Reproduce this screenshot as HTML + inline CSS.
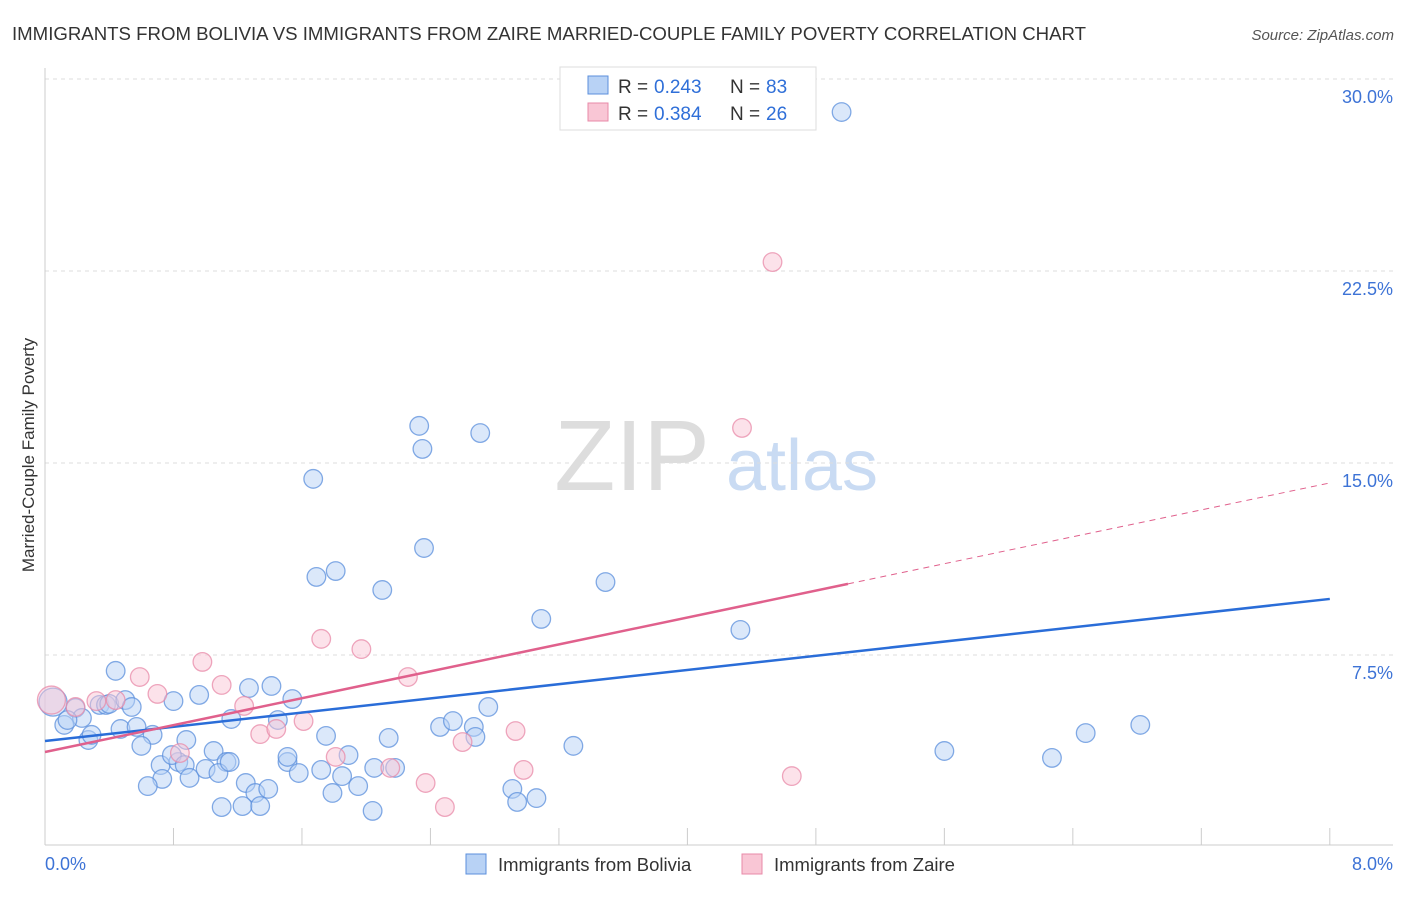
<!DOCTYPE html>
<html><head><meta charset="utf-8"><style>
body{margin:0;background:#fff;font-family:"Liberation Sans",sans-serif}
svg text{font-family:"Liberation Sans",sans-serif}
</style></head><body>
<svg id="chart" width="1406" height="892" xmlns="http://www.w3.org/2000/svg">
<text x="12" y="40" font-size="18" fill="#333" textLength="1074" lengthAdjust="spacingAndGlyphs">IMMIGRANTS FROM BOLIVIA VS IMMIGRANTS FROM ZAIRE MARRIED-COUPLE FAMILY POVERTY CORRELATION CHART</text>
<text x="1394" y="40" font-size="15" fill="#555" font-style="italic" text-anchor="end">Source: ZipAtlas.com</text>
<g>
<text x="632" y="490" font-size="100" fill="#ddd" font-family="Liberation Serif,serif" text-anchor="middle">ZIP</text>
<text x="802" y="490" font-size="72" fill="#c9dbf3" text-anchor="middle">atlas</text>
</g>
<g id="grid"></g>
<g id="axes"></g>
<g id="marks"></g>
<text transform="translate(34,455) rotate(-90)" font-size="17" fill="#333" text-anchor="middle">Married-Couple Family Poverty</text>
<g>
<rect x="560" y="67" width="256" height="63" fill="#fff" stroke="#ddd"/>
<rect x="588" y="76" width="20" height="18" fill="#b8d2f5" stroke="#5b8fdc"/>
<rect x="588" y="103" width="20" height="18" fill="#f9c6d5" stroke="#e88aa8"/>
<text x="618" y="93" font-size="19" fill="#333">R = </text><text x="654" y="93" font-size="19" fill="#2f6fd8">0.243</text>
<text x="730" y="93" font-size="19" fill="#333">N = </text><text x="766" y="93" font-size="19" fill="#2f6fd8">83</text>
<text x="618" y="120" font-size="19" fill="#333">R = </text><text x="654" y="120" font-size="19" fill="#2f6fd8">0.384</text>
<text x="730" y="120" font-size="19" fill="#333">N = </text><text x="766" y="120" font-size="19" fill="#2f6fd8">26</text>
</g>
<g>
<rect x="466" y="854" width="20" height="20" fill="#b8d2f5" stroke="#5b8fdc"/>
<text x="498" y="871" font-size="18.5" fill="#333">Immigrants from Bolivia</text>
<rect x="742" y="854" width="20" height="20" fill="#f9c6d5" stroke="#e88aa8"/>
<text x="774" y="871" font-size="18.5" fill="#333">Immigrants from Zaire</text>
</g>
</svg>
<script>
const yTicks=[7.5,15,22.5,30];
const yTickLabels=["7.5%","15.0%","22.5%","30.0%"];
const xTickLabels=["0.0%","8.0%"];
const boliviaX=[0.44,0.05,0.19,0.34,0.38,0.40,0.50,0.54,0.23,0.12,0.14,0.27,0.29,0.80,0.96,0.47,0.57,0.67,0.60,0.88,1.16,1.27,1.41,1.54,1.45,0.72,0.83,0.79,0.87,1.05,1.13,0.90,0.73,0.64,1.00,1.08,1.25,1.15,1.31,1.39,1.23,1.34,1.10,1.51,1.51,1.58,1.75,1.72,1.89,1.85,1.79,1.95,2.04,2.05,2.14,2.18,2.46,2.54,2.67,2.68,2.76,3.29,2.91,2.94,3.06,1.69,1.81,2.10,2.36,2.33,2.35,2.71,1.67,3.09,3.49,4.33,4.96,5.60,6.27,6.48,6.82];
const boliviaY=[6.88,5.66,5.43,5.55,5.55,5.59,5.74,5.47,5.04,4.77,4.96,4.18,4.38,5.70,5.94,4.61,4.69,4.38,3.95,4.18,5.00,6.21,6.29,5.78,4.96,3.20,3.32,3.59,3.20,3.75,3.32,2.70,2.66,2.38,3.05,2.89,2.50,3.32,2.11,2.27,1.60,1.60,1.56,3.32,3.52,2.89,4.34,3.01,3.59,2.77,2.11,2.38,1.41,3.09,4.26,3.09,4.69,4.92,4.69,4.30,5.47,3.95,2.27,1.76,1.91,10.55,10.78,10.04,11.68,16.45,15.55,16.17,14.38,8.91,10.35,8.48,28.71,3.75,3.48,4.45,4.77];
const zaireX=[0.04,0.19,0.32,0.44,0.70,0.59,0.98,1.10,1.24,1.34,1.44,1.61,0.84,1.72,1.97,2.26,1.81,2.15,2.37,2.49,2.60,2.93,2.98,4.34,4.53,4.65];
const zaireY=[5.74,5.47,5.70,5.74,5.98,6.64,7.23,6.33,5.51,4.41,4.61,4.92,3.67,8.13,7.73,6.64,3.52,3.09,2.50,1.56,4.10,4.53,3.01,16.37,22.85,2.77];
const boliviaTrend=[4.14,9.69];
const zaireTrend=[3.71,14.22];
const zaireSolidEnd=5.0;
const NS="http://www.w3.org/2000/svg";
const sx=v=>45+v*160.6, sy=v=>847-v*25.6;
function mk(tag,attrs,parent){const e=document.createElementNS(NS,tag);for(const k in attrs)e.setAttribute(k,attrs[k]);parent.appendChild(e);return e;}
const grid=document.getElementById('grid'),axes=document.getElementById('axes'),marks=document.getElementById('marks');
yTicks.forEach((t,i)=>{
 const l=mk('line',{x1:45,x2:1393,y1:sy(t),y2:sy(t),stroke:'#ddd','stroke-dasharray':'4,4'},grid);
 
 
 const tx=mk('text',{x:1393,y:sy(t)+24,'font-size':18,fill:'#3d73d6','text-anchor':'end'},axes);
 tx.textContent=yTickLabels[i];
 
 
});
const ya=mk('line',{x1:45,x2:45,y1:68,y2:845,stroke:'#ccc'},axes);


const xa=mk('line',{x1:45,x2:1393,y1:845,y2:845,stroke:'#ccc'},axes);


for(let i=0;i<=10;i++){const t=mk('line',{x1:sx(i*0.8),x2:sx(i*0.8),y1:828,y2:845,stroke:'#ccc'},axes);
 
 }
[[0,'start',45],[1,'end',1393]].forEach(([i,a,x])=>{const t=mk('text',{x:x,y:870,'font-size':18,fill:'#3d73d6','text-anchor':a},axes);t.textContent=xTickLabels[i];
 
 });
function pts(X,Y,fill,stroke,name){X.forEach((x,i)=>{const c=mk('circle',{cx:sx(x),cy:sy(Y[i]),r:i===(name==='bolivia-point'?1:0)?14:9.3,fill:fill,'fill-opacity':0.5,stroke:stroke,'stroke-opacity':0.75,'stroke-width':1.3},marks);
 
 });}
pts(boliviaX,boliviaY,'#b8d2f5','#5b8fdc','bolivia-point');
pts(zaireX,zaireY,'#f9c6d5','#e88aa8','zaire-point');
const bl=mk('line',{x1:sx(0),y1:sy(boliviaTrend[0]),x2:sx(8),y2:sy(boliviaTrend[1]),stroke:'#2a6dd8','stroke-width':2.5},marks);


const zm=zaireTrend[0]+(zaireTrend[1]-zaireTrend[0])*zaireSolidEnd/8;
const zl=mk('line',{x1:sx(0),y1:sy(zaireTrend[0]),x2:sx(zaireSolidEnd),y2:sy(zm),stroke:'#e0608c','stroke-width':2.5},marks);


const zd=mk('line',{x1:sx(zaireSolidEnd),y1:sy(zm),x2:sx(8),y2:sy(zaireTrend[1]),stroke:'#e0608c','stroke-width':1,'stroke-dasharray':'6,5'},marks);


</script>
</body></html>
